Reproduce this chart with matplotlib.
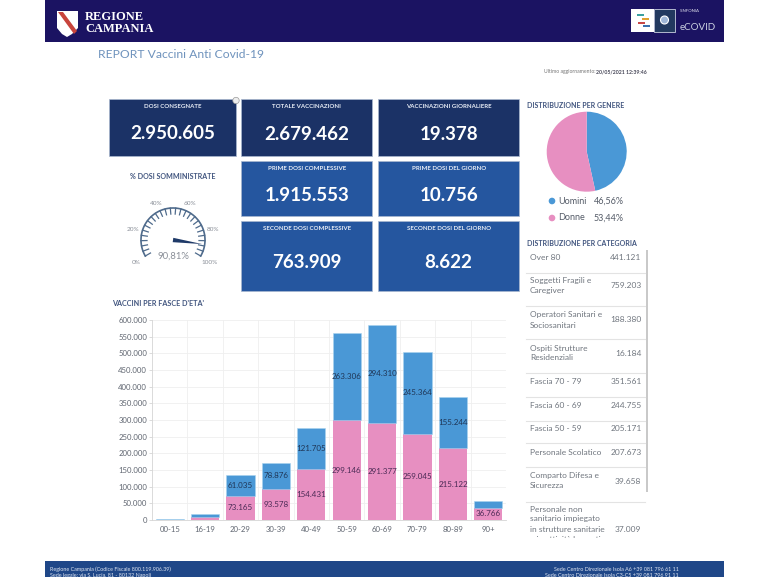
import numpy as np
import matplotlib
matplotlib.use("Agg")
import matplotlib.pyplot as plt
from matplotlib.patches import Rectangle, Polygon, Wedge, Circle

plt.rcParams['font.family'] = ['Lato', 'DejaVu Sans']

W, H = 769, 577

# ---------- data ----------
age_groups = ['00-15', '16-19', '20-29', '30-39', '40-49', '50-59', '60-69', '70-79', '80-89', '90+']
donne = [1500, 9000, 73165, 93578, 154431, 299146, 291377, 259045, 215122, 36766]
uomini = [1500, 10000, 61035, 78876, 121705, 263306, 294310, 245364, 155244, 20000]
donne_labeled = [False, False, True, True, True, True, True, True, True, True]
uomini_labeled = [False, False, True, True, True, True, True, True, True, False]
y_ticks = list(range(0, 600001, 50000))

genere_labels = ['Uomini', 'Donne']
genere_values = [46.56, 53.44]
genere_text = ['46,56%', '53,44%']

gauge_value = 90.81
gauge_ticklabels = ['0%', '20%', '40%', '60%', '80%', '100%']

card_titles = ['DOSI CONSEGNATE', 'TOTALE VACCINAZIONI', 'VACCINAZIONI GIORNALIERE',
               'PRIME DOSI COMPLESSIVE', 'PRIME DOSI DEL GIORNO',
               'SECONDE DOSI COMPLESSIVE', 'SECONDE DOSI DEL GIORNO']
card_values = ['2.950.605', '2.679.462', '19.378', '1.915.553', '10.756', '763.909', '8.622']

category_names = [['Over 80'], ['Soggetti Fragili e', 'Caregiver'],
                  ['Operatori Sanitari e', 'Sociosanitari'],
                  ['Ospiti Strutture', 'Residenziali'], ['Fascia 70 - 79'],
                  ['Fascia 60 - 69'], ['Fascia 50 - 59'], ['Personale Scolatico'],
                  ['Comparto Difesa e', 'Sicurezza'],
                  ['Personale non', 'sanitario impiegato', 'in strutture sanitarie', 'e in attività lavorative']]
category_values = ['441.121', '759.203', '188.380', '16.184', '351.561',
                   '244.755', '205.171', '207.673', '39.658', '37.009']

# ---------- layout (pixels) ----------
NAVY, MID = '#1b3266', '#25569f'
BLUE, PINK = '#4a98d6', '#e78fc1'
HEAD, FOOT = '#1b1362', '#1f4788'
INK, GREY = '#41557f', '#6d7480'

fig = plt.figure(figsize=(W / 100, H / 100), dpi=100, facecolor='white')
bg = fig.add_axes([0, 0, 1, 1], zorder=1)
bg.set_xlim(0, W)
bg.set_ylim(H, 0)
bg.axis('off')

def T(x, y, s, size, color=GREY, ha='left', weight='normal', **kw):
    return bg.text(x, y, s, fontsize=size, color=color, ha=ha, va='center', fontweight=weight, **kw)

# header
bg.add_patch(Rectangle((45, 0), 679, 42, fc=HEAD, ec='none'))
bg.add_patch(Polygon([(57, 11), (78, 11), (78, 28), (72, 34), (67, 37), (62, 34), (57, 28)], fc='white', ec='none'))
bg.add_patch(Polygon([(58, 12), (63, 12), (77, 31), (74, 34)], fc='#c8443c', ec='none'))
T(85, 16.5, 'REGIONE', 9, 'white', weight='bold', family='Liberation Serif')
T(85, 29.5, 'CAMPANIA', 9, 'white', weight='bold', family='Liberation Serif')
bg.add_patch(Rectangle((631, 9), 23, 22.5, fc='white', ec='none'))
bg.add_patch(Rectangle((654, 9), 21, 22.5, fc='#22395f', ec='#c9cfe0', lw=0.6))
for (px, py, c) in [(640, 15, '#3aa0a0'), (645, 19, '#e0a030'), (641, 23, '#c84848'), (646, 26, '#3a70b0')]:
    bg.add_patch(Rectangle((px - 3, py - 1), 7, 2.4, fc=c, ec='none'))
bg.add_patch(Circle((664.5, 20), 4, fc='#9fb6d6', ec='white', lw=0.8))
T(680, 11, 'SINFONIA', 3.2, '#d8d8e8')
T(680, 28, 'eCOVID', 7, '#c9cfe0')

T(98, 54, 'REPORT Vaccini Anti Covid-19', 8.7, '#6f93bd')
T(544, 72, 'Ultimo aggiornamento:', 3.7, '#777777')
T(596.5, 72, '20/05/2021 12:39:46', 3.7, '#444455', weight='bold')

# cards
card_boxes = [(109.3, 99.3, 126.7, 56.7, NAVY), (241, 99.3, 131.3, 56.7, NAVY), (378.3, 99.3, 140.7, 56.7, NAVY),
              (241, 161.3, 131.3, 54.4, MID), (378.3, 161.3, 140.7, 54.4, MID),
              (241, 221, 131.3, 70.3, MID), (378.3, 221, 140.7, 70.3, MID)]
title_dy = [6.7, 6.7, 6.7, 6.7, 6.7, 7, 7]
value_dy = [34, 35, 35, 34.5, 34, 42, 42]
for (x, y, w, h, c), t, v, a, b in zip(card_boxes, card_titles, card_values, title_dy, value_dy):
    bg.add_patch(Rectangle((x, y), w, h, fc=c, ec='#a9b8d0', lw=0.5))
    T(x + w / 2, y + a, t, 4.45, '#e8edf6', ha='center', weight='bold')
    T(x + w / 2, y + b, v, 13.5, 'white', ha='center', weight='bold')
bg.add_patch(Circle((236, 100.5), 3.2, fc='#eeeeee', ec='#999999', lw=0.5))

# gauge
T(173, 176.5, '% DOSI SOMMINISTRATE', 5.1, INK, ha='center', weight='bold')
cx, cy, R = 173, 240, 32
val2ang = lambda p: np.radians(210 - 240 * p / 100)
arc = np.radians(np.linspace(210, -30, 120))
bg.plot(cx + R * np.cos(arc), cy - R * np.sin(arc), color='#4f6b8c', lw=1.2)
for p in np.arange(0, 101, 4):
    a = val2ang(p)
    r2 = R - 6
    bg.plot([cx + R * np.cos(a), cx + r2 * np.cos(a)], [cy - R * np.sin(a), cy - r2 * np.sin(a)],
            color='#4f6b8c', lw=0.9)
for p, s in zip(range(0, 101, 20), gauge_ticklabels):
    a = val2ang(p)
    T(cx + 42 * np.cos(a), cy + 2 - 42 * np.sin(a), s, 4.6, '#8a8f98', ha='center')
na = val2ang(gauge_value)
nr = R - 2.5
perp = na + np.pi / 2
bg.add_patch(Polygon([(cx + nr * np.cos(na), cy - nr * np.sin(na)),
                      (cx + 2.2 * np.cos(perp), cy - 2.2 * np.sin(perp)),
                      (cx - 2.2 * np.cos(perp), cy + 2.2 * np.sin(perp))], fc='#1f3a68', ec='none'))
T(173, 256, '90,81%', 6.8, '#8a8f98', ha='center')

# gender pie
T(527, 105.5, 'DISTRIBUZIONE PER GENERE', 5, INK, weight='bold')
pie_ax = fig.add_axes([(586.7 - 40) / W, 1 - (151.7 + 40) / H, 80 / W, 80 / H], zorder=2)
pie_ax.pie(genere_values, colors=[BLUE, PINK], startangle=90, counterclock=False, radius=1)
pie_ax.set_xlim(-1, 1)
pie_ax.set_ylim(-1, 1)
for y, l, v, c in zip([201, 218], genere_labels, genere_text, [BLUE, PINK]):
    bg.add_patch(Circle((552, y), 3.3, fc=c, ec='none'))
    T(558, y, l, 6.5, '#555c68')
    T(624, y, v, 6.5, '#555c68', ha='right')

# category table
T(527, 243, 'DISTRIBUZIONE PER CATEGORIA', 5, INK, weight='bold')
clip = Rectangle((520, 248), 130, 290, transform=bg.transData)
line_y = [273, 306, 339, 373, 397, 421, 443, 467, 502]
name_y = [[257], [281, 291], [315, 325], [348, 358], [381], [405], [428.6], [452.5],
          [475.6, 486], [509, 519, 529, 539]]
val_y = [257, 286, 319, 353, 381, 405, 428.6, 452.5, 481, 529]
for ly in line_y:
    bg.plot([526, 645], [ly, ly], color='#e3e3e3', lw=0.8)
for names, ys, v, vy in zip(category_names, name_y, category_values, val_y):
    for n, y in zip(names, ys):
        t = T(530, y, n, 6, '#70767f', clip_on=True)
        t.set_clip_path(clip)
    T(641.5, vy, v, 6, '#70767f', ha='right')
bg.add_patch(Rectangle((645.5, 250), 2.4, 242, fc='#c9c9c9', ec='none'))

# bar chart
T(112, 304, "VACCINI PER FASCE D'ETA'", 5.2, INK, weight='bold')
L, R_, TOP, BOT = 152, 506, 320, 520
ax = fig.add_axes([L / W, 1 - BOT / H, (R_ - L) / W, (BOT - TOP) / H], zorder=2)
ax.patch.set_alpha(0)
xs = np.arange(len(age_groups))
ax.bar(xs, donne, width=0.8, color=PINK, zorder=3)
ax.bar(xs, uomini, width=0.8, bottom=donne, color=BLUE, edgecolor='#a9d3ef', linewidth=0.4, zorder=3)
fmt = lambda v: f'{v:,}'.replace(',', '.')
for x, d, u, dl, ul in zip(xs, donne, uomini, donne_labeled, uomini_labeled):
    if dl:
        ax.text(x, d / 2, fmt(d), ha='center', va='center', fontsize=5.8, color='#4a2a55', zorder=4)
    if ul:
        ax.text(x, d + u / 2, fmt(u), ha='center', va='center', fontsize=5.8, color='#1f3555', zorder=4)
ax.set_xlim(-0.5, len(age_groups) - 0.5)
ax.set_ylim(0, 600000)
ax.set_yticks(y_ticks)
ax.set_yticklabels([fmt(v) for v in y_ticks], fontsize=5.6, color='#5f6570')
ax.set_xticks(xs)
ax.set_xticklabels(age_groups, fontsize=5.6, color='#5f6570')
ax.set_xticks(xs[:-1] + 0.5, minor=True)
ax.grid(True, axis='y', color='#efefef', lw=0.6, zorder=0)
ax.grid(True, axis='x', which='minor', color='#efefef', lw=0.6, zorder=0)
ax.tick_params(axis='y', length=2, width=0.5, color='#cccccc', pad=1.5)
ax.tick_params(axis='x', which='major', length=0, pad=4)
ax.tick_params(axis='x', which='minor', length=0)
for s in ['top', 'right']:
    ax.spines[s].set_visible(False)
for s in ['left', 'bottom']:
    ax.spines[s].set_color('#d5d5d5')
    ax.spines[s].set_linewidth(0.6)

# footer
bg.add_patch(Rectangle((45, 561), 679, 16, fc=FOOT, ec='none'))
T(50, 569.5, 'Regione Campania (Codice Fiscale 800.119.906.39)', 3.9, '#dfe6f2')
T(50, 575.5, 'Sede legale: via S. Lucia, 81 - 80132 Napoli', 3.9, '#dfe6f2')
T(679, 569.5, 'Sede Centro Direzionale Isola A6 +39 081 796 61 11', 3.9, '#dfe6f2', ha='right')
T(679, 575.5, 'Sede Centro Direzionale Isola C3-C5 +39 081 796 91 11', 3.9, '#dfe6f2', ha='right')

fig.savefig('out.png', dpi=100)
